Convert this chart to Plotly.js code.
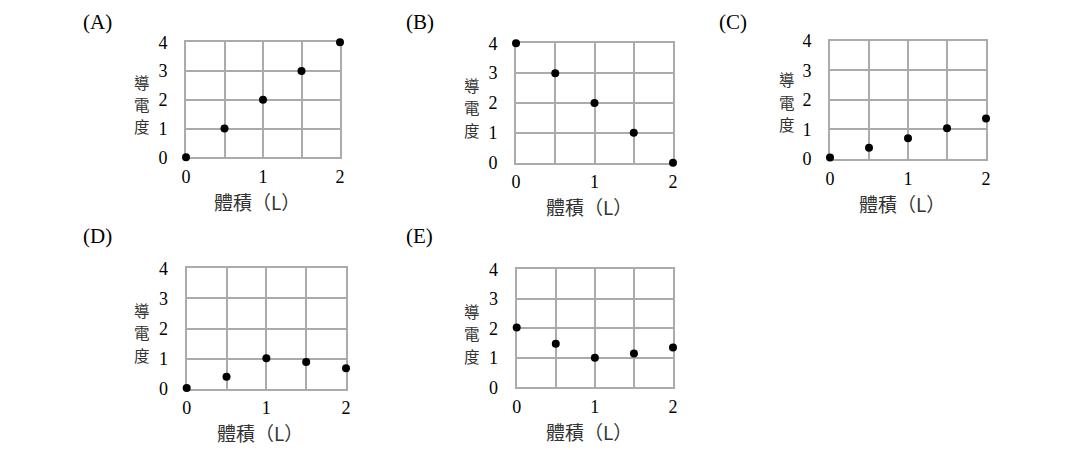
<!DOCTYPE html>
<html>
<head>
<meta charset="utf-8">
<script src="https://cdn.plot.ly/plotly-3.0.1.min.js"></script>
<style>html,body{margin:0;padding:0;background:#fff;}#chart{width:1070px;height:450px;}</style>
</head>
<body>
<div id="chart"></div>
<script>
// ---- data ----
const panelLabels = ['(A)', '(B)', '(C)', '(D)', '(E)'];
const volumeL = [0, 0.5, 1, 1.5, 2];
const condA = [0, 1, 2, 3, 4];
const condB = [4, 3, 2, 1, 0];
const condC = [0.05, 0.38, 0.70, 1.04, 1.37];
const condD = [0.02, 0.40, 1.01, 0.89, 0.68];
const condE = [2.03, 1.48, 1.00, 1.15, 1.35];
const xTickVals = [0, 0.5, 1, 1.5, 2];
const xTickText = ['0', '', '1', '', '2'];
const yTickVals = [0, 1, 2, 3, 4];
const yTickText = ['0', '1', '2', '3', '4'];
const yTitleChars = ['導', '電', '度'];
const xTitle = '體積（L）';

const series = [condA, condB, condC, condD, condE];

// ---- layout geometry (pixels) ----
const W = 1070, H = 450;
const boxes = [
  {l: 186, r: 340, t: 42.3, b: 157.3},
  {l: 516, r: 673, t: 43.3, b: 162.7},
  {l: 830, r: 986, t: 40.7, b: 159},
  {l: 186.7, r: 346, t: 268.3, b: 388.7},
  {l: 516.7, r: 673, t: 269.3, b: 387.3}
];
const labelPos = [
  {x: 81, y: 22}, {x: 404, y: 22}, {x: 717, y: 22}, {x: 81, y: 236}, {x: 404, y: 236}
];
const yTitleX = [142, 472, 787, 142, 472];
const yTitleMid = [104, 107, 102, 332, 333];
const serif = 'Liberation Serif';
const cjk = 'Noto Sans CJK TC';
const grid = '#ababab';

const px = v => v / W;
const py = v => 1 - v / H;

const traces = [];
const layout = {
  width: W, height: H,
  margin: {l: 0, r: 0, t: 0, b: 0},
  paper_bgcolor: '#fff', plot_bgcolor: '#fff',
  showlegend: false,
  font: {family: serif, size: 18, color: '#000'},
  annotations: []
};

boxes.forEach((bx, i) => {
  const n = i === 0 ? '' : String(i + 1);
  traces.push({
    type: 'scatter', mode: 'markers',
    x: volumeL, y: series[i],
    xaxis: 'x' + n, yaxis: 'y' + n,
    marker: {color: '#000', size: 8},
    cliponaxis: false,
    hoverinfo: 'skip'
  });
  layout['xaxis' + n] = {
    domain: [px(bx.l), px(bx.r)], anchor: 'y' + n,
    range: [0, 2], fixedrange: true,
    tickmode: 'array', tickvals: xTickVals, ticktext: xTickText,
    showgrid: true, gridcolor: grid, gridwidth: 2,
    showline: true, mirror: true, linecolor: grid, linewidth: 2,
    layer: 'below traces',
    zeroline: false, ticks: '',
    ticklabelstandoff: 2,
    tickfont: {family: serif, size: 18, color: '#000'}
  };
  layout['yaxis' + n] = {
    domain: [py(bx.b), py(bx.t)], anchor: 'x' + n,
    range: [0, 4], fixedrange: true,
    tickmode: 'array', tickvals: yTickVals, ticktext: yTickText,
    showgrid: true, gridcolor: grid, gridwidth: 2,
    showline: true, mirror: true, linecolor: grid, linewidth: 2,
    layer: 'below traces',
    zeroline: false, ticks: '',
    ticklabelstandoff: 13,
    tickfont: {family: serif, size: 18, color: '#000'}
  };
  // panel label
  layout.annotations.push({
    xref: 'paper', yref: 'paper', x: px(labelPos[i].x), y: py(labelPos[i].y),
    xanchor: 'left', yanchor: 'middle', showarrow: false,
    text: panelLabels[i], font: {family: serif, size: 21, color: '#000'}
  });
  // y title (stacked characters)
  yTitleChars.forEach((ch, k) => {
    layout.annotations.push({
      xref: 'paper', yref: 'paper', x: px(yTitleX[i]), y: py(yTitleMid[i] + (k - 1) * 22.5),
      xanchor: 'center', yanchor: 'middle', showarrow: false,
      text: ch, font: {family: cjk, size: 15.5, color: '#333'}
    });
  });
  // x title
  layout.annotations.push({
    xref: 'paper', yref: 'paper', x: px((bx.l + bx.r) / 2 - 6), y: py(bx.b + 44),
    xanchor: 'center', yanchor: 'middle', showarrow: false,
    text: xTitle, font: {family: cjk, size: 19, color: '#333'}
  });
});

Plotly.newPlot('chart', traces, layout, {staticPlot: true, displayModeBar: false});
</script>
</body>
</html>
